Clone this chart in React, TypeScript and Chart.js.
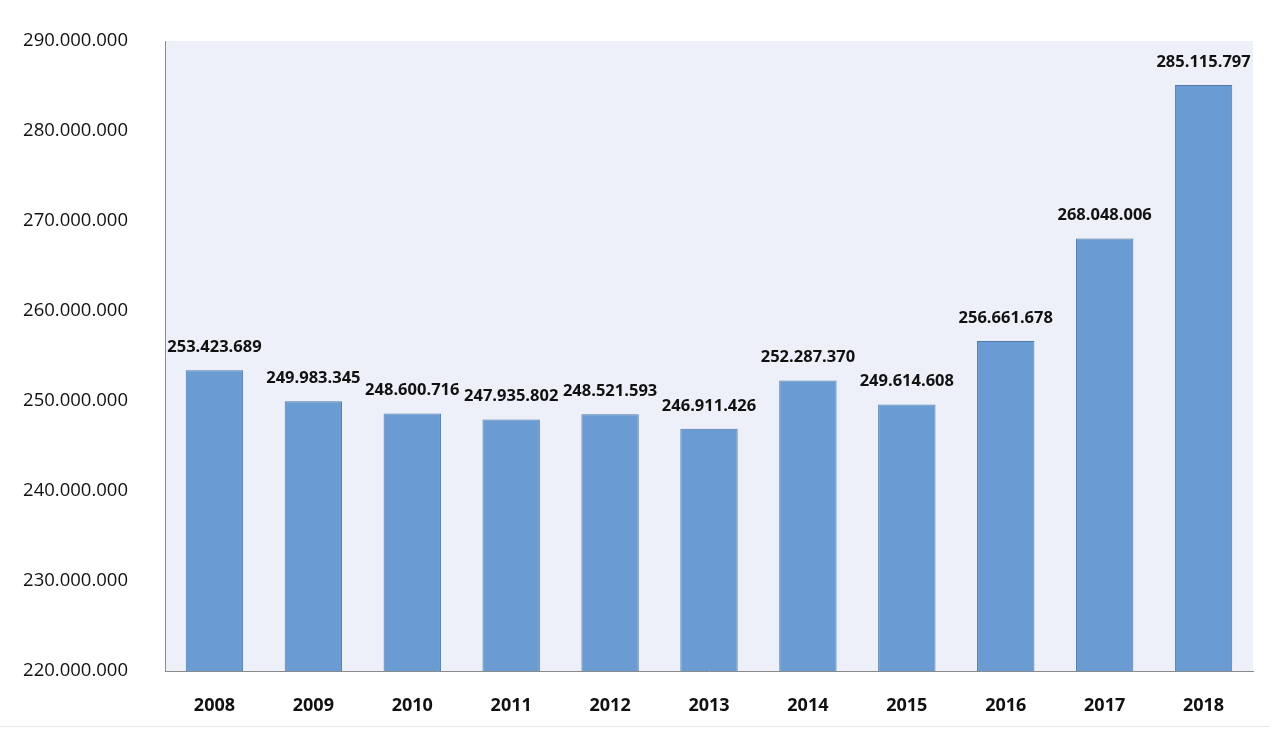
import React, { useEffect, useRef } from "react";
import { Chart, registerables } from "chart.js";

Chart.register(...registerables);

const years = ["2008", "2009", "2010", "2011", "2012", "2013", "2014", "2015", "2016", "2017", "2018"];
const values = [253423689, 249983345, 248600716, 247935802, 248521593, 246911426, 252287370, 249614608, 256661678, 268048006, 285115797];
const yMin = 220000000;
const yMax = 290000000;
const yStep = 10000000;

const fmt = (v: number) => String(Math.round(v)).replace(/\B(?=(\d{3})+(?!\d))/g, ".");

const bgPlugin = {
  id: "plotBg",
  beforeDraw(chart: any) {
    const { ctx, chartArea } = chart;
    ctx.save();
    ctx.fillStyle = "#edf0f8";
    ctx.fillRect(chartArea.left, chartArea.top, chartArea.right - chartArea.left, chartArea.bottom - chartArea.top);
    ctx.restore();
  },
};

const labelPlugin = {
  id: "valueLabels",
  afterDatasetsDraw(chart: any) {
    const { ctx } = chart;
    const meta = chart.getDatasetMeta(0);
    ctx.save();
    ctx.font = "bold 16.5px 'Open Sans'";
    ctx.fillStyle = "#111";
    ctx.textAlign = "center";
    ctx.textBaseline = "middle";
    meta.data.forEach((bar: any, i: number) => {
      ctx.fillText(fmt(values[i]), bar.x, bar.y - 23);
    });
    ctx.restore();
  },
};

export default function App() {
  const ref = useRef<HTMLCanvasElement>(null);
  useEffect(() => {
    if (!ref.current) return;
    const chart = new Chart(ref.current, {
      type: "bar",
      data: {
        labels: years,
        datasets: [
          {
            data: values,
            backgroundColor: "#6a9bd2",
            borderColor: "#4d79a8",
            borderWidth: 1,
            borderSkipped: false,
            categoryPercentage: 1,
            barPercentage: 0.58,
          },
        ],
      },
      options: {
        animation: false,
        responsive: true,
        maintainAspectRatio: false,
        layout: { padding: { top: 41, right: 32, bottom: 0, left: 0 } },
        plugins: { legend: { display: false }, tooltip: { enabled: false } },
        scales: {
          x: {
            grid: { display: false, drawTicks: false },
            border: { display: true, color: "#8a8a8a", width: 1 },
            ticks: { color: "#111", padding: 24, font: { family: "'Open Sans'", size: 18, weight: "bold" } },
            afterFit(axis: any) {
              axis.height = 73;
            },
          },
          y: {
            min: yMin,
            max: yMax,
            grid: { display: false, drawTicks: false },
            border: { display: true, color: "#8a8a8a", width: 1 },
            ticks: {
              stepSize: yStep,
              color: "#111",
              padding: 37,
              font: { family: "'Open Sans'", size: 18.5 },
              callback: (v: any) => fmt(Number(v)),
            },
            afterFit(axis: any) {
              axis.width = 165;
              axis.paddingTop = 0;
              axis.paddingBottom = 0;
            },
          },
        },
      },
      plugins: [bgPlugin, labelPlugin],
    });
    return () => chart.destroy();
  }, []);

  return (
    <div style={{ position: "absolute", left: 0, top: 0, width: 1285, height: 744, background: "#fff" }}>
      <div style={{ position: "absolute", left: 0, top: 0, width: 1285, height: 744 }}>
        <canvas ref={ref} />
      </div>
      <div style={{ position: "absolute", left: 0, top: 726, width: 1270, height: 1, background: "#e8e8e8" }} />
    </div>
  );
}
